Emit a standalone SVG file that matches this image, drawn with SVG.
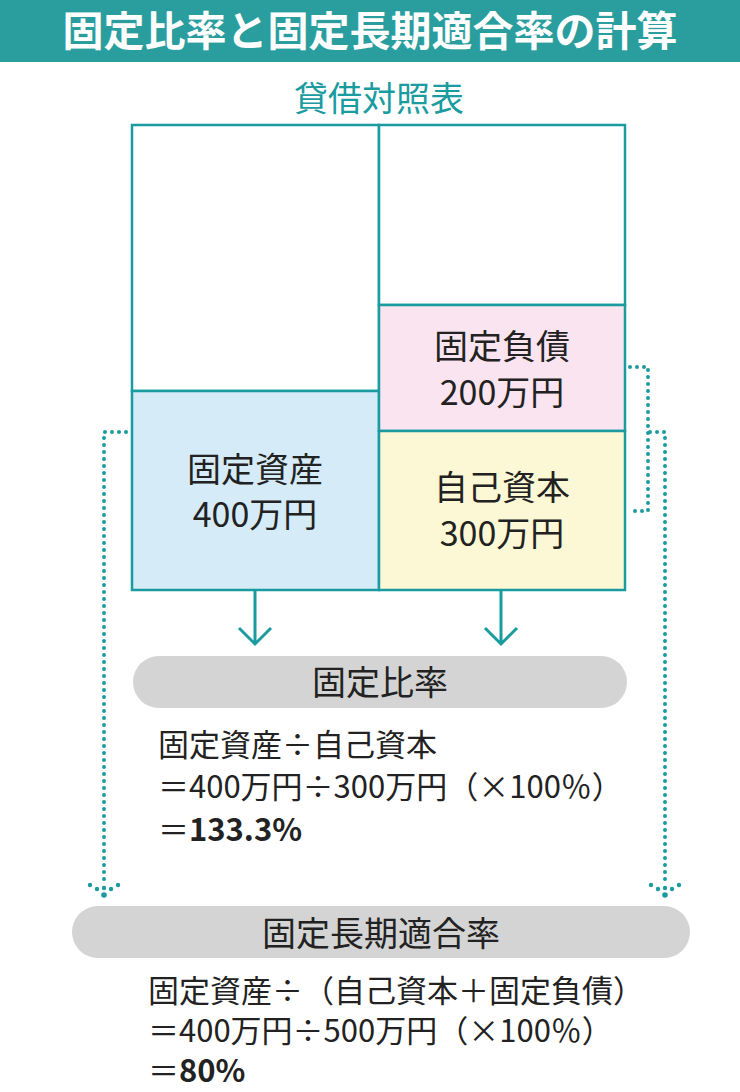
<svg xmlns="http://www.w3.org/2000/svg" width="740" height="1092" viewBox="0 0 740 1092">
<defs>
<style>
.t{font-family:"Noto Sans CJK JP","Liberation Sans",sans-serif;fill:#222;font-size:34px}
.f{font-size:31px}
.c{text-anchor:middle}
.box{stroke:#1a9ba0;stroke-width:2.5}
.dot{fill:none;stroke:#1a9ba0;stroke-width:4;stroke-dasharray:0 7;stroke-linecap:round}
.sol{fill:none;stroke:#1a9ba0;stroke-width:3}
.pill{fill:#d4d4d4}
</style>
</defs>
<rect width="740" height="1092" fill="#fff"/>
<rect x="0" y="0" width="740" height="62" fill="#2a9e9e"/>
<text x="370" y="46" class="t c" style="fill:#fff;font-weight:bold;font-size:41px">固定比率と固定長期適合率の計算</text>
<text x="379" y="111" class="t c" style="fill:#1a9ba0;font-size:34px">貸借対照表</text>
<g id="bs">
<rect class="box" x="132" y="125" width="247" height="266" fill="#fff"/>
<rect class="box" x="379" y="125" width="246" height="180" fill="#fff"/>
</g>
<g id="fixedAssets"><rect class="box" x="132" y="391" width="247" height="199" fill="#d5ebf8"/>
<text class="t c" x="255" y="482">固定資産</text><text class="t c" x="255" y="527">400万円</text></g>
<g id="fixedLiab"><rect class="box" x="379" y="305" width="246" height="126" fill="#f9e4ef"/>
<text class="t c" x="502" y="359">固定負債</text><text class="t c" x="502" y="405">200万円</text></g>
<g id="equity"><rect class="box" x="379" y="431" width="246" height="159" fill="#fcf7d5"/>
<text class="t c" x="502" y="500">自己資本</text><text class="t c" x="502" y="546">300万円</text></g>
<g id="connectors">
<path class="sol" d="M255 591V644M239 628L255 644L271 628M501 591V644M485 628L501 644L517 628"/>
<path class="dot" d="M126 432H104V880"/>
<path class="dot" d="M630 367H648V511H630"/>
<path class="dot" d="M650 432H665V880"/>
<g fill="#1a9ba0"><circle cx="104" cy="888" r="2.2"/><circle cx="104" cy="895" r="2.8"/><circle cx="97" cy="889" r="2.2"/><circle cx="111" cy="889" r="2.2"/><circle cx="90" cy="885" r="2.2"/><circle cx="118" cy="885" r="2.2"/>
<circle cx="665" cy="888" r="2.2"/><circle cx="665" cy="895" r="2.8"/><circle cx="658" cy="889" r="2.2"/><circle cx="672" cy="889" r="2.2"/><circle cx="651" cy="885" r="2.2"/><circle cx="679" cy="885" r="2.2"/></g>
</g>
<g id="ratio1"><rect class="pill" x="133" y="656" width="494" height="52" rx="26"/>
<text class="t c" x="380" y="695">固定比率</text>
<text class="t f" x="158" y="756">固定資産÷自己資本</text>
<text class="t f" x="158" y="798">＝400万円÷300万円（×100％）</text>
<text class="t f" x="158" y="841">＝<tspan font-weight="bold">133.3%</tspan></text></g>
<g id="ratio2"><rect class="pill" x="72" y="906" width="618" height="52" rx="26"/>
<text class="t c" x="381" y="946">固定長期適合率</text>
<text class="t f" x="148" y="1002">固定資産÷（自己資本＋固定負債）</text>
<text class="t f" x="148" y="1042">＝400万円÷500万円（×100％）</text>
<text class="t f" x="148" y="1082">＝<tspan font-weight="bold">80%</tspan></text></g>
</svg>
